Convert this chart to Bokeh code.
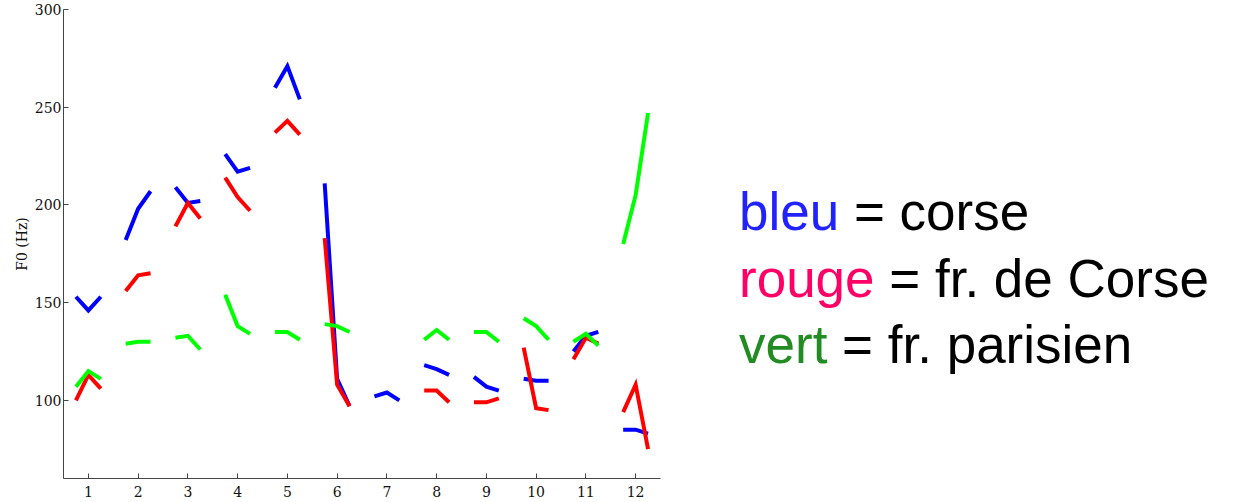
from bokeh.plotting import figure
from bokeh.models import Div, FixedTicker, Range1d
from bokeh.layouts import row
from bokeh.embed import file_html
from bokeh.resources import INLINE

# ---- data (F0 in Hz, three points per syllable) ----
syllables = list(range(1, 13))
y_ticks = [100, 150, 200, 250, 300]

corse = [[153, 146, 153], [182, 198, 207], [209, 201, 202], [226, 217, 219],
         [260, 271, 254], [211, 111, 97], [102, 104, 100], [118, 116, 113],
         [112, 107, 105], [111, 110, 110], [125, 133, 135], [85, 85, 83]]
fr_corse = [[100, 113, 106], [156, 164, 165], [189, 201, 193], [214, 204, 197],
            [237, 243, 236], [183, 108, 97], None, [105, 105, 99],
            [99, 99, 101], [127, 96, 95], [121, 132, 129], [94, 108, 75]]
fr_paris = [[107, 115, 111], [129, 130, 130], [132, 133, 126], [154, 138, 134],
            [135, 135, 131], [139, 138, 135], None, [131, 136, 131],
            [135, 135, 130], [142, 138, 131], [130, 134, 128], [180, 205, 247]]

offsets = [-0.25, 0.0, 0.25]

p = figure(frame_width=597, frame_height=469,
           x_range=Range1d(0.5, 12.5), y_range=Range1d(60, 300),
           output_backend="svg", toolbar_location=None,
           min_border_left=63, min_border_right=10,
           min_border_top=9, min_border_bottom=18,
           background_fill_color="white", border_fill_color="white")
p.outline_line_color = None
p.xgrid.visible = False
p.ygrid.visible = False


def segs(series):
    xs, ys = [], []
    for s, tri in zip(syllables, series):
        if tri is None:
            continue
        xs.append([s + o for o in offsets])
        ys.append(tri)
    return xs, ys


for series, col in [(corse, "#0000FF"), (fr_corse, "#FF0000"), (fr_paris, "#00FF00")]:
    xs, ys = segs(series)
    p.multi_line(xs, ys, line_color=col, line_width=4, line_join="miter", line_cap="butt")

for ax in (p.xaxis, p.yaxis):
    ax.major_tick_in = 5
    ax.major_tick_out = 0
    ax.minor_tick_line_color = None
    ax.axis_line_color = "#444444"
    ax.major_tick_line_color = "#444444"
    ax.major_label_text_font = "DejaVu Serif"
    ax.major_label_text_font_size = "14px"
    ax.major_label_text_color = "#111111"

p.xaxis.ticker = FixedTicker(ticks=syllables)
p.yaxis.ticker = FixedTicker(ticks=y_ticks)
p.xaxis.major_label_standoff = 7
p.yaxis.major_label_standoff = 2
p.yaxis.axis_label = "F0 (Hz)"
p.yaxis.axis_label_text_font = "DejaVu Serif"
p.yaxis.axis_label_text_font_size = "14px"
p.yaxis.axis_label_text_font_style = "normal"
p.yaxis.axis_label_text_color = "#111111"
p.yaxis.axis_label_standoff = 2

legend_html = (
    '<div style="font-family:\'Liberation Sans\',Arial,sans-serif;font-size:53px;'
    'line-height:66.7px;padding-left:64px;padding-top:174px;color:#000;white-space:nowrap">'
    '<span style="color:#2222FF">bleu</span> = corse<br>'
    '<span style="color:#FF0066">rouge</span> = fr. de Corse<br>'
    '<span style="color:#228B22">vert</span> = fr. parisien'
    '</div>'
)
d = Div(text=legend_html, width=540, height=480)

layout = row(p, d)
open("out.html", "w").write(file_html(layout, INLINE))
